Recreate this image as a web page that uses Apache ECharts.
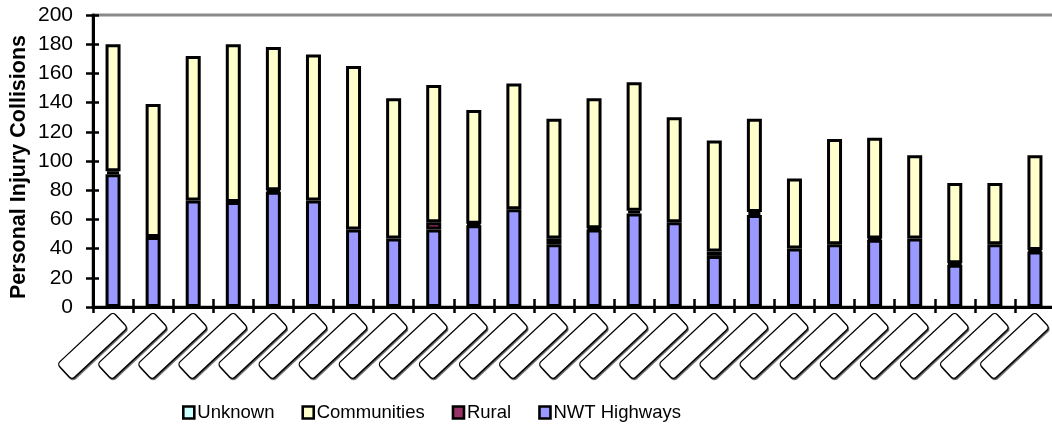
<!DOCTYPE html>
<html>
<head>
<meta charset="utf-8">
<script src="https://cdn.jsdelivr.net/npm/echarts@6/dist/echarts.min.js"></script>
<style>
  html, body { margin: 0; padding: 0; background: #fff; }
  #chart { width: 1052px; height: 426px; }
</style>
</head>
<body>
<div id="chart"></div>
<script>
// Category labels (blank boxes under each column)
const categories = [' ', ' ', ' ', ' ', ' ', ' ', ' ', ' ', ' ', ' ', ' ', ' ',
                    ' ', ' ', ' ', ' ', ' ', ' ', ' ', ' ', ' ', ' ', ' ', ' '];

// Collisions by location
const nwtHighways = [91, 48, 73, 72, 79, 73, 53, 47, 53, 56, 67, 43, 53, 64, 58, 35, 63, 40, 43, 46, 47, 29, 43, 38];
const rural       = [2, 0, 0, 0, 1, 0, 0, 0, 5, 1, 0, 4, 1, 2, 0, 3, 2, 0, 0, 1, 0, 1, 0, 1];
const communities = [87, 91, 99, 108, 98, 100, 112, 96, 94, 78, 86, 82, 89, 88, 72, 76, 64, 48, 72, 69, 57, 55, 42, 65];
const unknown     = [0, 0, 0, 0, 0, 0, 0, 0, 0, 0, 0, 0, 0, 0, 0, 0, 0, 0, 0, 0, 0, 0, 0, 0];

const yTicks = { min: 0, max: 200, step: 20 };

const FONT = 'Liberation Sans, Arial, sans-serif';

// zero segments are left empty so they don't add a stroke
const seg = arr => arr.map(v => (v === 0 ? '-' : v));

function barSeries(name, data, color) {
  return {
    name: name,
    type: 'bar',
    stack: 'total',
    barWidth: 15,
    data: seg(data),
    itemStyle: { color: color, borderColor: '#000', borderWidth: 3 },
    emphasis: { disabled: true }
  };
}

const chart = echarts.init(document.getElementById('chart'), null, { renderer: 'canvas' });

chart.setOption({
  animation: false,
  backgroundColor: '#fff',
  grid: {
    left: 93, top: 15, width: 962, height: 292,
    show: true, borderColor: '#8a8a8a', borderWidth: 3,
    backgroundColor: 'transparent',
    containLabel: false,
    outerBoundsMode: 'none'
  },
  legend: {
    data: ['Unknown', 'Communities', 'Rural', 'NWT Highways'],
    left: 177, top: 398,
    padding: 5,
    icon: 'rect',
    itemWidth: 11, itemHeight: 12,
    itemGap: 27,
    itemStyle: { borderColor: '#000', borderWidth: 2.6 },
    textStyle: { fontFamily: FONT, fontSize: 18.5, color: '#000', padding: [0, 0, 0, -2] }
  },
  xAxis: [
    {
      type: 'category',
      data: categories,
      boundaryGap: true,
      axisLine: { show: true, lineStyle: { color: '#000', width: 3 } },
      axisTick: { show: true, length: 6, lineStyle: { color: '#000', width: 2.5 } },
      axisLabel: {
        show: true,
        interval: 0,
        rotate: 43,
        margin: 6,
        align: 'right',
        verticalAlign: 'top',
        width: 75,
        height: 20,
        padding: 0,
        backgroundColor: '#fff',
        borderColor: '#000',
        borderWidth: 1.3,
        borderRadius: 3,
        shadowColor: 'rgba(0,0,0,0.55)',
        shadowOffsetX: 1,
        shadowOffsetY: 1.5,
        shadowBlur: 0,
        fontSize: 12,
        color: '#000'
      },
      splitLine: { show: false }
    },
    {
      // inner half of the cross ticks
      type: 'category',
      data: categories,
      position: 'bottom',
      boundaryGap: true,
      axisLine: { show: false },
      axisTick: { show: true, inside: true, length: 8, lineStyle: { color: '#000', width: 2.5 } },
      axisLabel: { show: false },
      splitLine: { show: false }
    }
  ],
  yAxis: [
    {
      type: 'value',
      min: yTicks.min, max: yTicks.max, interval: yTicks.step,
      name: 'Personal Injury Collisions',
      nameLocation: 'middle',
      nameRotate: 90,
      nameGap: 63,
      nameMoveOverlap: false,
      nameTextStyle: { fontFamily: FONT, fontSize: 21.5, fontWeight: 'bold', color: '#000', padding: [0, 12, 0, 0] },
      axisLine: { show: true, lineStyle: { color: '#000', width: 3 } },
      axisTick: { show: true, length: 7, lineStyle: { color: '#000', width: 2.5 } },
      axisLabel: { fontFamily: FONT, fontSize: 21, color: '#000', margin: 20 },
      splitLine: { show: false }
    },
    {
      // inner half of the cross ticks
      type: 'value',
      position: 'left',
      min: yTicks.min, max: yTicks.max, interval: yTicks.step,
      axisLine: { show: false },
      axisTick: { show: true, inside: true, length: 6, lineStyle: { color: '#000', width: 2.5 } },
      axisLabel: { show: false },
      splitLine: { show: false }
    }
  ],
  series: [
    barSeries('NWT Highways', nwtHighways, '#9999FF'),
    barSeries('Rural', rural, '#993366'),
    barSeries('Communities', communities, '#FFFFCC'),
    barSeries('Unknown', unknown, '#CCFFFF')
  ]
});
</script>
</body>
</html>
